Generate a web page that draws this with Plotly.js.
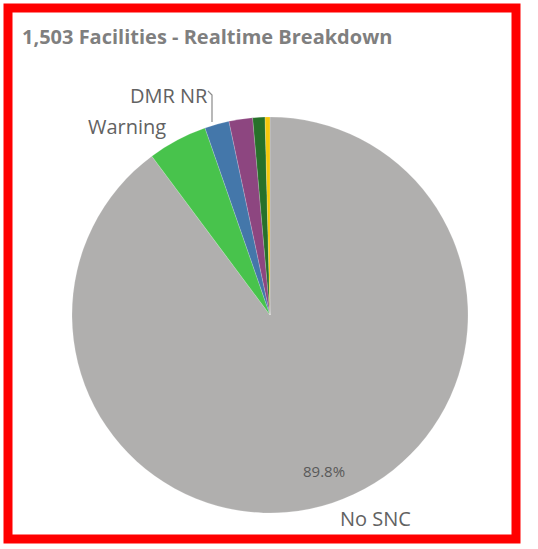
<!DOCTYPE html>
<html>
<head>
<meta charset="utf-8">
<script src="https://cdn.plot.ly/plotly-3.0.1.min.js"></script>
<style>
html,body{margin:0;padding:0;background:#fff;}
#chart{width:538px;height:549px;}
</style>
</head>
<body>
<div id="chart"></div>
<script>
const categories = ["No SNC", "Warning", "DMR NR", "Other A", "Other B", "Other C"];
const counts = [1350, 73, 30, 29, 15, 6];
const colors = ["#b0afae", "#48c34c", "#4477aa", "#8d4680", "#27712a", "#f4c80c"];
const titleText = "1,503 Facilities - Realtime Breakdown";

const W = 538, H = 549;
const px = x => x / W;
const py = y => 1 - y / H;
const total = counts.reduce((a, b) => a + b, 0);
const pctNoSNC = (100 * counts[0] / total).toFixed(1) + "%";

const trace = {
  type: "pie",
  labels: categories,
  values: counts,
  sort: false,
  direction: "clockwise",
  rotation: 0,
  marker: {colors: colors, line: {color: "rgba(255,255,255,0.35)", width: 0.5}},
  textinfo: "none",
  hoverinfo: "label+percent",
  domain: {x: [px(72), px(468)], y: [py(513), py(117)]},
  showlegend: false
};

const labelFont = {family: "Open Sans, sans-serif", size: 20, color: "#626262"};

const layout = {
  width: W, height: H,
  margin: {l: 0, r: 0, t: 0, b: 0},
  paper_bgcolor: "#ffffff",
  plot_bgcolor: "#ffffff",
  title: {
    text: "<b>" + titleText + "</b>",
    x: px(22), xanchor: "left", y: py(37), yanchor: "middle",
    font: {family: "Open Sans, sans-serif", size: 20, color: "#7f7f7f"}
  },
  shapes: [
    {type: "rect", xref: "paper", yref: "paper", x0: px(8), x1: px(516), y0: py(539), y1: py(8),
     line: {color: "#ff0000", width: 9}, fillcolor: "rgba(0,0,0,0)"},
    {type: "path", xref: "paper", yref: "paper",
     path: "M " + px(208) + " " + py(91) + " L " + px(212) + " " + py(95) + " L " + px(212) + " " + py(122),
     line: {color: "#8a8a8a", width: 1.2}}
  ],
  annotations: [
    {text: pctNoSNC, xref: "paper", yref: "paper", x: px(324), y: py(471), xanchor: "center", yanchor: "middle",
     showarrow: false, font: {family: "Open Sans, sans-serif", size: 15, color: "#595959"}},
    {text: "Warning", xref: "paper", yref: "paper", x: px(127), y: py(127), xanchor: "center", yanchor: "middle",
     showarrow: false, font: labelFont},
    {text: "DMR NR", xref: "paper", yref: "paper", x: px(169), y: py(96), xanchor: "center", yanchor: "middle",
     showarrow: false, font: labelFont},
    {text: "No SNC", xref: "paper", yref: "paper", x: px(375), y: py(518), xanchor: "center", yanchor: "middle",
     showarrow: false, font: labelFont}
  ]
};

Plotly.newPlot("chart", [trace], layout, {displayModeBar: false, staticPlot: true});
</script>
</body>
</html>
